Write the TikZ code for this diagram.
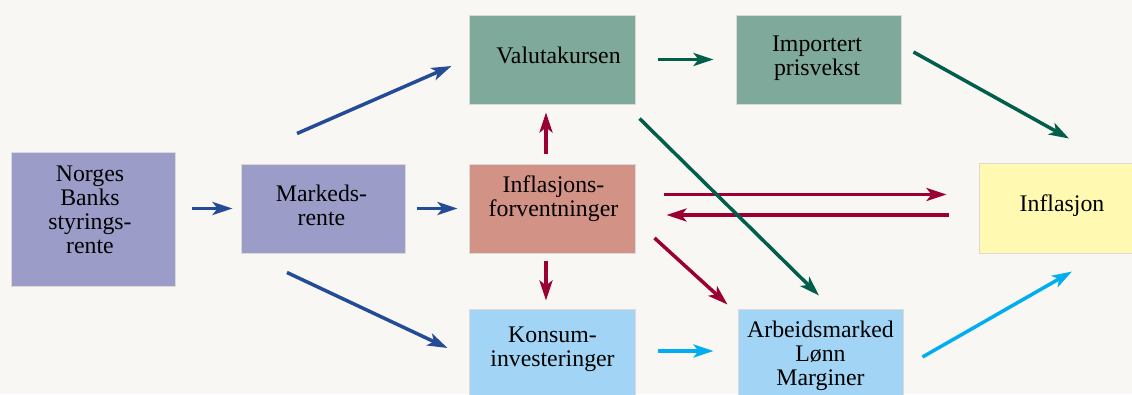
\documentclass[tikz,border=0pt]{standalone}
\usepackage{fontspec}
\setmainfont{Liberation Serif}
\usetikzlibrary{calc,arrows.meta}
\definecolor{bgc}{HTML}{F8F7F3}
\definecolor{edgec}{HTML}{DCDAD6}
\definecolor{lilac}{HTML}{9B9DC8}
\definecolor{sage}{HTML}{7FA99B}
\definecolor{salmon}{HTML}{D29386}
\definecolor{skyb}{HTML}{A1D4F5}
\definecolor{lemon}{HTML}{FFF9B1}
\definecolor{navyc}{HTML}{244C96}
\definecolor{wine}{HTML}{9B0035}
\definecolor{pine}{HTML}{005E4A}
\definecolor{cyanc}{HTML}{00AEEF}
\tikzset{
  boxc/.style={draw=edgec, line width=1pt, inner sep=0pt, rectangle},
  lbl/.style={align=center, inner sep=0pt, font=\fontsize{23.8}{24}\selectfont},
  arr/.style={line width=3.5pt, -{Stealth[length=20pt,width=13pt,inset=5pt]}},
  barr/.style={arr, draw=navyc, color=navyc},
  rarr/.style={arr, draw=wine, color=wine},
  garr/.style={arr, draw=pine, color=pine},
  carr/.style={arr, draw=cyanc, color=cyanc}
}
\begin{document}
\begin{tikzpicture}[x=1pt,y=-1pt]
\useasboundingbox (0,0) rectangle (1132,394);
\fill[bgc] (0,0) rectangle (1132,394);
\clip (0,0) rectangle (1132,394);
% boxes
\node[boxc, fill=lilac, minimum width=164pt, minimum height=134pt] (norges) at (93,219) {};
\node[boxc, fill=lilac, minimum width=164pt, minimum height=89pt] (markeds) at (323,208.5) {};
\node[boxc, fill=sage, minimum width=166pt, minimum height=89pt] (valuta) at (552,59.5) {};
\node[boxc, fill=salmon, minimum width=166pt, minimum height=89pt] (infl) at (552,208.5) {};
\node[boxc, fill=skyb, minimum width=166pt, minimum height=111pt] (konsum) at (552,364.5) {};
\node[boxc, fill=sage, minimum width=165pt, minimum height=89pt] (import) at (818.5,59.5) {};
\node[boxc, fill=skyb, minimum width=165pt, minimum height=111pt] (arbeid) at (820.5,364.5) {};
\node[boxc, fill=lemon, minimum width=166pt, minimum height=90pt] (inflasjon) at (1062,208.5) {};
% texts
\node[lbl] (norgesT) at (90,212.5) {\strut Norges\\\strut Banks\\\strut styrings-\\\strut rente};
\node[lbl] (markedsT) at (321.5,209) {\strut Markeds-\\\strut rente};
\node[lbl] (valutaT) at (558.5,59) {\strut Valutakursen};
\node[lbl] (inflT) at (553.5,199.5) {\strut Inflasjons-\\\strut forventninger};
\node[lbl] (konsumT) at (552.5,350) {\strut Konsum-\\\strut investeringer};
\node[lbl] (importT) at (817,59) {\strut Importert\\\strut prisvekst};
\node[lbl] (arbeidT) at (820.5,356.5) {\strut Arbeidsmarked\\\strut Lønn\\\strut Marginer};
\node[lbl] (inflasjonT) at (1062,207) {\strut Inflasjon};
% arrows
\draw[barr] ($(norges.east |- markeds.west)+(16,0)$) -- ($(markeds.west)+(-8,0)$);
\draw[barr] ($(markeds.north)+(-26,-30)$) -- ($(valuta.west)+(-17,6.5)$);
\draw[barr] ($(markeds.south)+(-36,19)$) -- ($(konsum.west)+(-21,-16.5)$);
\draw[barr] ($(markeds.east)+(11,0)$) -- ($(infl.west)+(-11,0)$);
\draw[rarr] ($(infl.north)+(-6,-10)$) -- ($(valuta.south)+(-6,8)$);
\draw[rarr] ($(infl.south)+(-6,7)$) -- ($(konsum.north)+(-6,-8)$);
\draw[rarr] ($(infl.east)+(28,-14)$) -- ($(inflasjon.west)+(-32,-14)$);
\draw[rarr] ($(inflasjon.west)+(-30,6.5)$) -- ($(infl.east)+(31,6.5)$);
\draw[rarr] ($(infl.east)+(19,29.5)$) -- ($(arbeid.north west)+(-10,-4)$);
\draw[garr] ($(valuta.east)+(22,0)$) -- ($(import.west)+(-22,0)$);
\draw[garr] ($(valuta.south east)+(4,14)$) -- ($(arbeid.north)+(-1.5,-13)$);
\draw[garr] ($(import.east)+(12,-7.5)$) -- ($(inflasjon.north)+(7,-24.5)$);
\draw[carr] ($(konsum.east)+(22,-13.5)$) -- ($(arbeid.west)+(-24,-13.5)$);
\draw[carr] ($(arbeid.east)+(19,-7.5)$) -- ($(inflasjon.south)+(10,17.5)$);
\end{tikzpicture}
\end{document}
